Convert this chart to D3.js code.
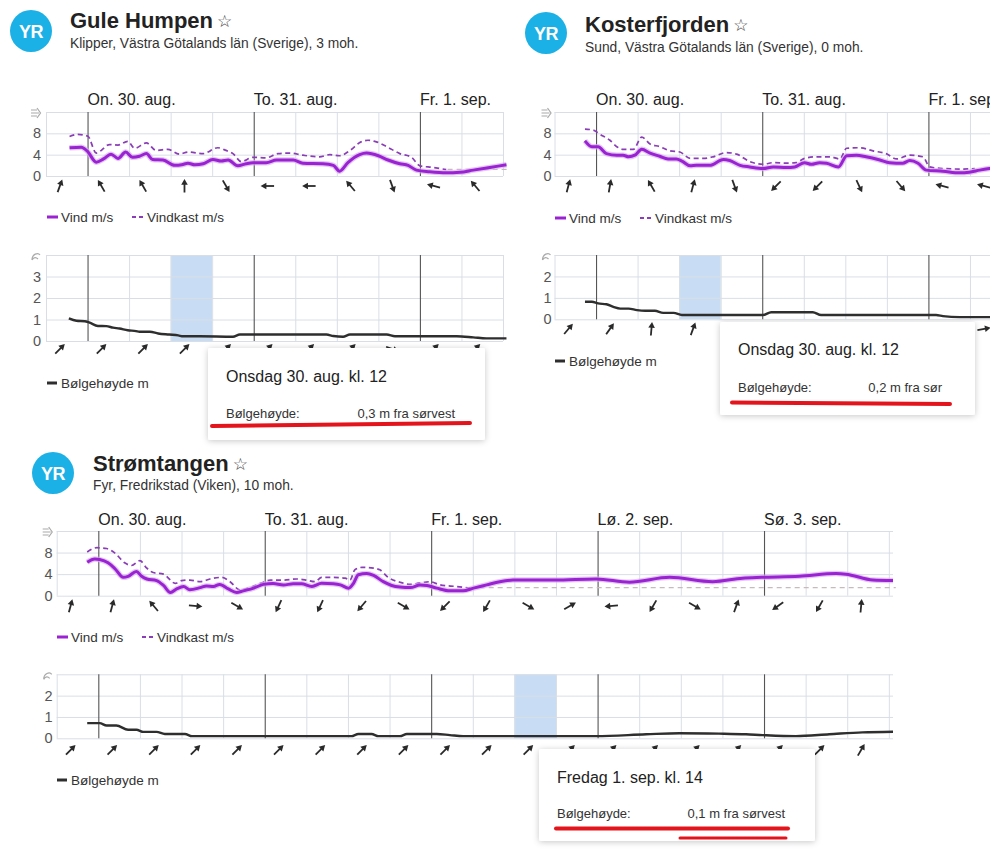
<!DOCTYPE html>
<html><head><meta charset="utf-8">
<script src="https://cdn.jsdelivr.net/npm/d3@7"></script>
<style>body{margin:0;background:#fff}svg{display:block;font-family:"Liberation Sans",Arial,sans-serif}</style>
</head><body><svg id="c" width="1000" height="853"></svg>
<script>
// ---------- data ----------
const days3 = ["On. 30. aug.", "To. 31. aug.", "Fr. 1. sep."];
const days5 = ["On. 30. aug.", "To. 31. aug.", "Fr. 1. sep.", "Lø. 2. sep.", "Sø. 3. sep."];
const windTicks = [0, 4, 8, 12];

const guleInfo = ["Gule Humpen", "Klipper, Västra Götalands län (Sverige), 3 moh."];
const guleWind = [[-2.6,5.3],[-0.9,5.4],[0,4.6],[1.25,2.6],[2.3,3.2],[3.4,4.1],[4.4,3.3],[5.5,4.5],[6.5,3.5],[7.5,3.7],[8.5,4.2],[9.4,3.1],[10.9,3.0],[12.6,2.0],[13.6,2.1],[14.5,2.4],[15.5,2.1],[16.7,2.3],[18.1,3.1],[19.3,2.8],[20.3,3.0],[21.7,1.9],[22.9,2.3],[23.9,2.5],[25.8,2.5],[27.3,3.0],[29.7,3.0],[31.1,2.4],[34,2.3],[35.5,2.0],[36.4,0.9],[37.6,2.5],[39.3,4.0],[40.3,4.3],[42,3.8],[43.4,3.0],[45.1,2.3],[46.3,2.0],[47.5,1.1],[49.4,0.8],[51.8,0.6],[53.8,0.7],[55.7,1.1],[58.1,1.6],[60.5,2.1]];
const guleGust = [[-2.6,7.4],[-1.4,7.8],[0.05,7.45],[1.25,4.3],[3.2,5.9],[4.4,5.8],[5.8,6.5],[6.8,5.2],[8.5,6.2],[9.9,4.8],[11.6,5.0],[13.3,4.1],[14.5,4.5],[16.7,4.2],[18.8,5.3],[20,4.8],[21,4.2],[22.2,2.7],[23.9,3.5],[25.8,3.4],[27.5,4.2],[29.2,4.3],[31.1,3.9],[33.5,3.6],[35,4.0],[36.4,3.8],[37.9,4.8],[39.5,6.4],[40.5,6.7],[41.7,6.4],[43.2,5.5],[45.1,4.2],[46.8,3.5],[48,1.9],[49.9,1.6],[51.8,1.2]];
const guleGustMissing = [[52,1.25],[61,1.25]];
const guleWave = [[-2.7,1.05],[-1.6,0.94],[-0.4,0.92],[0.3,0.85],[1.5,0.7],[2.7,0.69],[3.7,0.62],[4.6,0.58],[5.8,0.5],[7.0,0.46],[7.5,0.43],[9.0,0.43],[10.2,0.35],[11.8,0.3],[13.1,0.26],[13.8,0.22],[16.2,0.22],[21,0.2],[22,0.3],[34.5,0.3],[35.5,0.23],[36.9,0.2],[37.9,0.3],[43.2,0.3],[44.4,0.22],[53.3,0.22],[55.7,0.17],[57.6,0.12],[60.5,0.12]];
const guleWindDir = [20, 330, 330, 0, 150, 270, 270, 320, 160, 285, 320];
const guleWaveDir = [45, 45, 45, 45, 45, 45, 45, 45, 110, 45, 45];
const guleTip = ["Onsdag 30. aug. kl. 12", "Bølgehøyde:", "0,3 m fra sørvest"];

const kosterInfo = ["Kosterfjorden", "Sund, Västra Götalands län (Sverige), 0 moh."];
const kosterWind = [[-1.6,6.6],[-0.6,5.5],[0.3,5.5],[1.5,4.2],[3.0,3.9],[3.9,3.9],[4.7,3.6],[5.6,3.9],[6.6,5.0],[7.8,4.3],[9.2,3.7],[10.4,3.2],[11.6,3.2],[12.4,2.8],[13.6,1.9],[14.5,2.0],[16.4,2.0],[18.4,3.1],[19.3,2.9],[20.8,2.0],[22.2,1.7],[24.1,1.4],[25.6,1.7],[27.5,1.6],[28.7,1.7],[30.1,2.5],[31.1,2.2],[32.3,2.5],[33.3,2.4],[35,1.7],[36.2,3.8],[37.6,3.9],[39,3.6],[41,3.0],[42.4,2.5],[44.3,2.4],[45.3,2.9],[46.5,2.4],[47.7,1.1],[50.1,0.9],[52.5,0.6],[53.9,0.7],[55.4,1.1],[56.8,1.4],[58,1.6]];
const kosterGust = [[-1.6,8.8],[-0.4,8.6],[0.6,7.8],[2.0,6.7],[3.0,5.5],[3.9,5.0],[5.4,5.0],[6.6,7.3],[7.8,6.0],[9.2,5.5],[10.7,4.7],[12.1,4.5],[13.6,3.3],[15.5,3.3],[16.9,3.6],[18.8,4.4],[20.3,4.1],[22.2,2.7],[24.1,2.2],[25.6,2.5],[27.5,2.4],[28.9,2.5],[30.1,3.3],[31.8,3.6],[33.8,3.6],[35.2,3.2],[36.2,5.2],[38.1,5.3],[40,4.7],[41.9,4.2],[43.4,3.2],[45.3,3.9],[47.2,3.6],[48.2,1.7],[50.1,1.4],[53,1.3],[54.7,1.4]];
const kosterWave = [[-1.6,0.82],[-0.6,0.82],[0.3,0.74],[1.5,0.7],[2.5,0.58],[3.5,0.5],[4.7,0.5],[5.9,0.43],[7.1,0.4],[8.5,0.4],[9.7,0.3],[11.2,0.3],[12.4,0.2],[24.1,0.2],[25.3,0.33],[31.3,0.33],[32.5,0.2],[49.1,0.2],[50.1,0.15],[52.5,0.1],[58,0.1]];
const kosterWindDir = [15, 10, 330, 15, 160, 225, 225, 155, 140, 285, 285];
const kosterWaveDir = [40, 35, 5, 20, 20, 30, 30, 30, 45, 60, 80];
const kosterTip = ["Onsdag 30. aug. kl. 12", "Bølgehøyde:", "0,2 m fra sør"];

const stromInfo = ["Strømtangen", "Fyr, Fredrikstad (Viken), 10 moh."];
const stromWind = [[-1.6,6.2],[-0.5,6.8],[0.2,6.7],[1.4,6.1],[2.4,5.0],[3.6,3.4],[4.3,3.6],[5.5,4.5],[6.25,3.6],[7.0,3.1],[8.4,2.8],[9.4,1.9],[10.4,0.6],[11.3,1.25],[12.3,1.7],[13.2,1.1],[14.7,1.5],[15.6,1.8],[16.6,1.7],[17.5,2.1],[18.75,1.25],[19.95,0.6],[20.9,0.9],[22.4,1.4],[23.8,2.1],[25.2,2.25],[26.7,2.0],[28.1,2.2],[29.3,2.2],[30.8,1.7],[32.2,2.3],[33.9,2.2],[34.9,2.0],[36.1,1.4],[36.8,2.3],[37.5,3.9],[38.7,4.1],[39.7,3.75],[41.1,2.6],[42.3,1.9],[43.5,1.6],[45,1.5],[46.4,2.0],[47.4,1.9],[48.8,1.4],[50.7,0.9],[52.6,0.9],[54.1,1.4],[56,2.0],[57.9,2.6],[59.8,2.9],[65.8,2.9],[71.8,3.1],[76.6,2.5],[82.4,3.4],[88.6,2.6],[92.9,3.25],[95.7,3.4],[101.1,3.6],[106.4,4.1],[107.8,4.0],[111.7,2.9],[114.6,2.8]];
const stromGust = [[-1.6,8.1],[-0.2,8.9],[1.2,8.75],[2.4,7.9],[3.8,6.1],[4.8,5.6],[6.0,6.5],[7.0,5.1],[7.9,4.3],[9.4,4.0],[11.1,2.3],[12.0,2.8],[13.2,2.9],[14.7,2.6],[16.1,3.1],[17.8,3.4],[19.0,2.6],[20.4,1.1],[21.6,1.4],[23.8,2.5],[24.8,2.9],[26.7,2.9],[28.6,3.1],[30.0,2.9],[31.25,2.6],[32.2,3.4],[33.9,3.4],[35.6,3.25],[36.3,2.9],[37.0,4.8],[38.0,5.25],[39.7,5.1],[40.6,4.8],[41.8,3.4],[43.5,2.5],[45.0,2.1],[45.9,2.25],[47.1,2.5],[47.8,2.6],[49.3,2.0],[51.7,1.7],[53.6,1.4]];
const stromGustMissing = [[55,1.5],[115,1.5]];
const stromWave = [[-1.6,0.71],[0.2,0.71],[1.2,0.6],[2.6,0.6],[4.3,0.4],[5.5,0.4],[6.5,0.3],[8.4,0.3],[9.6,0.2],[12.5,0.2],[13.5,0.1],[36.5,0.1],[37.5,0.2],[39.4,0.2],[40.4,0.1],[43.5,0.1],[44.5,0.2],[48.8,0.2],[50.7,0.15],[52.6,0.1],[71.8,0.1],[79,0.19],[83.8,0.24],[89.5,0.22],[93.4,0.19],[95.8,0.15],[100.6,0.1],[105.4,0.19],[110.2,0.28],[114.6,0.31]];
const stromWindDir = [15, 15, 320, 95, 120, 205, 205, 220, 120, 225, 210, 120, 60, 265, 210, 120, 20, 235, 210, 5];
const stromWaveDir = [45, 45, 45, 45, 45, 45, 45, 45, 45, 45, 45, 45, 45, 45, 45, 45, 45, 45, 45, 30];
const stromTip = ["Fredag 1. sep. kl. 14", "Bølgehøyde:", "0,1 m fra sørvest"];

const legendLabels = ["Vind m/s", "Vindkast m/s", "Bølgehøyde m"];

// ---------- layout ----------
const panels = [
  {info: guleInfo, wind: guleWind, gust: guleGust, miss: guleGustMissing, wave: guleWave,
   wdir: guleWindDir, vdir: guleWaveDir, days: days3, tip: guleTip, band: [12, 18],
   xd: [-6, 60], xr: [46, 503], xEnd: 503, clip: null,
   logo: [31, 31], titleX: 70, titleY: 28, subY: 48,
   wTop: 112, wBot: 176, vTop: 255, vBot: 341, vMax: 4,
   dayY: 105, wArrY: 186, vArrY: 349, legWY: 217, legVY: 383, legX: 47, gustLegX: 132, labelPad: 5,
   box: {x: 208, y: 348, w: 277, h: 92, tx: 226, vx: 455, ty: 382, ry: 418,
         red: [[212, 426, 470, 423, 4]]}},
  {info: kosterInfo, wind: kosterWind, gust: kosterGust, miss: null, wave: kosterWave,
   wdir: kosterWindDir, vdir: kosterWaveDir, days: days3, tip: kosterTip, band: [12, 18],
   xd: [-6, 60], xr: [554.5, 1011.5], xEnd: 990, clip: "kclip",
   logo: [546, 33], titleX: 585, titleY: 32, subY: 52,
   wTop: 112, wBot: 176, vTop: 255, vBot: 319.3, vMax: 3,
   dayY: 105, wArrY: 186, vArrY: 329, legWY: 218, legVY: 361, legX: 555, gustLegX: 640, labelPad: 3,
   box: {x: 720, y: 322, w: 255, h: 93, tx: 738, vx: 942, ty: 355, ry: 392,
         red: [[732, 402.5, 950, 404, 4]]}},
  {info: stromInfo, wind: stromWind, gust: stromGust, miss: stromGustMissing, wave: stromWave,
   wdir: stromWindDir, vdir: stromWaveDir, days: days5, tip: stromTip, band: [60, 66],
   xd: [-6, 114.6], xr: [56.7, 893], xEnd: 893, clip: null,
   logo: [53, 473], titleX: 93, titleY: 471, subY: 490,
   wTop: 531, wBot: 595.7, vTop: 674.3, vBot: 738.3, vMax: 3,
   dayY: 525, wArrY: 606, vArrY: 750, legWY: 637, legVY: 780, legX: 57, gustLegX: 142, labelPad: 4,
   box: {x: 539, y: 749, w: 276, h: 92, tx: 557, vx: 785, ty: 783, ry: 818,
         red: [[556, 828.5, 788, 828.5, 4], [680, 838, 786, 838, 3]]}}
];

const C = {grid: "#d9dee6", day: "#555", wind: "#9a22d2", halo: "#d9aef0", gust: "#8a3db6",
           miss: "#c6babd", wave: "#2e2e2e", band: "#c8ddf3", text: "#222", axis: "#555",
           arrow: "#2a2a2a", red: "#e3141b", logo: "#1bb0e6"};

const svg = d3.select("#c");
const defs = svg.append("defs");
const f = defs.append("filter").attr("id", "sh").attr("x", "-10%").attr("y", "-15%").attr("width", "120%").attr("height", "135%");
f.append("feDropShadow").attr("dx", 0).attr("dy", 1).attr("stdDeviation", 3).attr("flood-color", "#000").attr("flood-opacity", 0.22);
defs.append("clipPath").attr("id", "kclip").append("rect").attr("x", 500).attr("y", 0).attr("width", 490).attr("height", 445);

function arrow(g, cx, cy, ang) {
  const a = g.append("g").attr("transform", `translate(${cx},${cy}) rotate(${ang})`);
  a.append("path").attr("d", "M0,6.5L0,-2").attr("stroke", C.arrow).attr("stroke-width", 1.8).attr("fill", "none");
  a.append("path").attr("d", "M-3.3,-1.2L0,-7L3.3,-1.2Z").attr("fill", C.arrow);
}

function drawPanel(p) {
  const g = svg.append("g").attr("clip-path", p.clip ? `url(#${p.clip})` : null);
  // header
  g.append("circle").attr("cx", p.logo[0]).attr("cy", p.logo[1]).attr("r", 21).attr("fill", C.logo);
  g.append("text").attr("x", p.logo[0]).attr("y", p.logo[1] + 6.5).attr("text-anchor", "middle")
    .attr("fill", "#fff").attr("font-weight", "bold").attr("font-size", 18).attr("letter-spacing", -0.5).text("YR");
  const t = g.append("text").attr("x", p.titleX).attr("y", p.titleY).attr("font-size", 22)
    .attr("font-weight", "bold").attr("fill", C.text).text(p.info[0]);
  const tw = t.node().getComputedTextLength();
  g.append("text").attr("x", p.titleX + tw + 4).attr("y", p.titleY - 1).attr("font-size", 17)
    .attr("font-family", "DejaVu Sans").attr("fill", "#444").text("☆");
  g.append("text").attr("x", p.titleX).attr("y", p.subY).attr("font-size", 13.8).attr("fill", "#333").text(p.info[1]);

  const x = d3.scaleLinear(p.xd, p.xr);
  const x0 = p.xr[0];
  const gridH = d3.range(p.xd[0], p.xd[1] + 0.01, 6);
  const dayH = gridH.filter(h => h >= 0 && h % 24 === 0);
  const yW = d3.scaleLinear([0, 12], [p.wBot, p.wTop]);
  const yV = d3.scaleLinear([0, p.vMax], [p.vBot, p.vTop]);

  // wave highlight band
  g.append("rect").attr("x", x(p.band[0])).attr("y", p.vTop).attr("width", x(p.band[1]) - x(p.band[0]))
    .attr("height", p.vBot - p.vTop).attr("fill", C.band);

  function grids(ys, ticks, fmt, bot, top) {
    const ay = g.append("g").attr("transform", `translate(${x0},0)`)
      .call(d3.axisLeft(ys).tickValues(ticks).tickSize(-(p.xEnd - x0)).tickPadding(p.labelPad).tickFormat(fmt));
    ay.select(".domain").remove();
    ay.selectAll("line").attr("stroke", C.grid);
    ay.selectAll("text").attr("font-size", 14.5).attr("fill", C.axis).attr("font-family", '"Liberation Sans",Arial,sans-serif');
    const ax = g.append("g").attr("transform", `translate(0,${bot})`)
      .call(d3.axisBottom(x).tickValues(gridH).tickSize(-(bot - top)).tickFormat(""));
    ax.select(".domain").remove();
    ax.selectAll("line").attr("stroke", d => dayH.includes(d) ? C.day : C.grid).attr("stroke-width", d => dayH.includes(d) ? 1.1 : 1);
  }
  grids(yW, windTicks, d => d === 12 ? "" : d, p.wBot, p.wTop);
  grids(yV, d3.range(0, p.vMax + 1), d => d === p.vMax ? "" : d, p.vBot, p.vTop);

  // small icons at the top of the axes
  const ix = x0 - p.labelPad - 5;
  g.append("path").attr("transform", `translate(${ix},${p.wTop + 1})`)
    .attr("d", "M-5,-3h6M-5,0h8M-5,3h6M1,-5l3.5,5l-3.5,5").attr("stroke", "#aaa").attr("stroke-width", 1.2).attr("fill", "none");
  g.append("path").attr("transform", `translate(${ix},${p.vTop + 1})`)
    .attr("d", "M-4,4C-4,-2 2,-4 4,-1M-4,4C-2,1 0,1 2,3").attr("stroke", "#aaa").attr("stroke-width", 1.2).attr("fill", "none");

  // day labels
  g.selectAll(null).data(p.days).enter().append("text")
    .attr("x", (d, i) => x(dayH[i])).attr("y", p.dayY).attr("font-size", 16).attr("fill", C.text).text(d => d);

  // lines
  const lineW = d3.line().x(d => x(d[0])).y(d => yW(d[1])).curve(d3.curveMonotoneX);
  const lineV = d3.line().x(d => x(d[0])).y(d => yV(d[1])).curve(d3.curveMonotoneX);
  if (p.miss) g.append("path").attr("d", lineW(p.miss)).attr("fill", "none").attr("stroke", C.miss)
    .attr("stroke-width", 1.4).attr("stroke-dasharray", "5,4");
  g.append("path").attr("d", lineW(p.gust)).attr("fill", "none").attr("stroke", C.gust)
    .attr("stroke-width", 1.7).attr("stroke-dasharray", "5,3.5");
  g.append("path").attr("d", lineW(p.wind)).attr("fill", "none").attr("stroke", C.halo).attr("stroke-opacity", 0.7)
    .attr("stroke-width", 5.5).attr("stroke-linejoin", "round");
  g.append("path").attr("d", lineW(p.wind)).attr("fill", "none").attr("stroke", C.wind).attr("stroke-width", 3).attr("stroke-linejoin", "round");
  g.append("path").attr("d", lineV(p.wave)).attr("fill", "none").attr("stroke", C.wave).attr("stroke-width", 2.4).attr("stroke-linejoin", "round");

  // direction arrows
  p.wdir.forEach((a, i) => arrow(g, x(-4 + 6 * i), p.wArrY, a));
  p.vdir.forEach((a, i) => arrow(g, x(-4 + 6 * i), p.vArrY, a));

  // legends
  g.append("line").attr("x1", p.legX).attr("x2", p.legX + 11).attr("y1", p.legWY).attr("y2", p.legWY)
    .attr("stroke", C.wind).attr("stroke-width", 3);
  g.append("text").attr("x", p.legX + 14).attr("y", p.legWY + 5).attr("font-size", 13.5).attr("fill", "#333").text(legendLabels[0]);
  g.append("line").attr("x1", p.gustLegX).attr("x2", p.gustLegX + 12).attr("y1", p.legWY).attr("y2", p.legWY)
    .attr("stroke", C.gust).attr("stroke-width", 1.8).attr("stroke-dasharray", "4,3");
  g.append("text").attr("x", p.gustLegX + 15).attr("y", p.legWY + 5).attr("font-size", 13.5).attr("fill", "#333").text(legendLabels[1]);
  g.append("line").attr("x1", p.legX).attr("x2", p.legX + 10).attr("y1", p.legVY).attr("y2", p.legVY)
    .attr("stroke", C.wave).attr("stroke-width", 3);
  g.append("text").attr("x", p.legX + 14).attr("y", p.legVY + 5).attr("font-size", 13.5).attr("fill", "#333").text(legendLabels[2]);

  // tooltip box
  const b = p.box;
  g.append("rect").attr("x", b.x).attr("y", b.y).attr("width", b.w).attr("height", b.h).attr("rx", 2)
    .attr("fill", "#fff").attr("filter", "url(#sh)");
  g.append("text").attr("x", b.tx).attr("y", b.ty).attr("font-size", 16).attr("fill", "#222").text(p.tip[0]);
  g.append("text").attr("x", b.tx).attr("y", b.ry).attr("font-size", 13).attr("fill", "#333").text(p.tip[1]);
  g.append("text").attr("x", b.vx).attr("y", b.ry).attr("font-size", 13).attr("text-anchor", "end").attr("fill", "#333").text(p.tip[2]);
  b.red.forEach(r => g.append("line").attr("x1", r[0]).attr("y1", r[1]).attr("x2", r[2]).attr("y2", r[3])
    .attr("stroke", C.red).attr("stroke-width", r[4]).attr("stroke-linecap", "round"));
}

panels.forEach(drawPanel);
</script></body></html>
